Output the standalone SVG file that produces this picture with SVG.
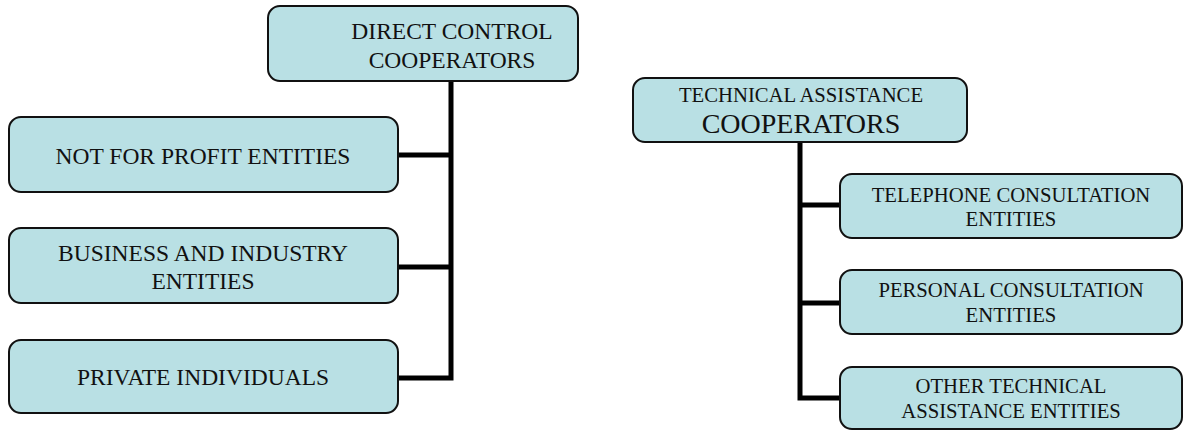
<svg xmlns="http://www.w3.org/2000/svg" width="1183" height="430" viewBox="0 0 1183 430">
  <style>
    .box { fill: #b9e0e4; stroke: #111; stroke-width: 2; }
    .lbl { fill: #111; text-anchor: middle; }
    .big { font-size: 23.5px; }
    .mid { font-size: 20.7px; }
    .wire { stroke: #000; stroke-width: 5; fill: none; stroke-linecap: square; stroke-linejoin: miter; }
  </style>
  <rect width="1183" height="430" fill="#fff"/>

  <!-- connectors -->
  <g id="connectors">
    <path class="wire" d="M451 82 V378 M398 155 H451 M398 267 H451 M398 378 H451"/>
    <path class="wire" d="M800 143 V398 M800 205 H840 M800 303 H840 M800 398 H840"/>
  </g>

  <g font-family="'Liberation Serif', 'Times New Roman', 'DejaVu Serif', serif">
    <!-- left tree -->
    <g id="direct-control">
      <rect class="box" x="268" y="6" width="310" height="75" rx="12"/>
      <text class="lbl big" x="452" y="39">DIRECT CONTROL</text>
      <text class="lbl big" x="452" y="68">COOPERATORS</text>
    </g>
    <g id="not-for-profit">
      <rect class="box" x="9" y="117" width="389" height="75" rx="12"/>
      <text class="lbl big" x="203" y="164">NOT FOR PROFIT ENTITIES</text>
    </g>
    <g id="business-industry">
      <rect class="box" x="9" y="228" width="389" height="75" rx="12"/>
      <text class="lbl big" x="203" y="261">BUSINESS AND INDUSTRY</text>
      <text class="lbl big" x="203" y="289">ENTITIES</text>
    </g>
    <g id="private-individuals">
      <rect class="box" x="9" y="340" width="389" height="73" rx="12"/>
      <text class="lbl big" x="203" y="385">PRIVATE INDIVIDUALS</text>
    </g>

    <!-- right tree -->
    <g id="technical-assistance">
      <rect class="box" x="633" y="78" width="334" height="64" rx="12"/>
      <text class="lbl mid" x="801" y="102">TECHNICAL ASSISTANCE</text>
      <text class="lbl" x="801" y="133" font-size="28">COOPERATORS</text>
    </g>
    <g id="telephone-consultation">
      <rect class="box" x="840" y="174" width="342" height="64" rx="12"/>
      <text class="lbl mid" x="1011" y="202">TELEPHONE CONSULTATION</text>
      <text class="lbl mid" x="1011" y="226">ENTITIES</text>
    </g>
    <g id="personal-consultation">
      <rect class="box" x="840" y="270" width="342" height="64" rx="12"/>
      <text class="lbl mid" x="1011" y="297">PERSONAL CONSULTATION</text>
      <text class="lbl mid" x="1011" y="322">ENTITIES</text>
    </g>
    <g id="other-technical">
      <rect class="box" x="840" y="367" width="342" height="62" rx="12"/>
      <text class="lbl mid" x="1011" y="393">OTHER TECHNICAL</text>
      <text class="lbl mid" x="1011" y="418">ASSISTANCE ENTITIES</text>
    </g>
  </g>
</svg>
